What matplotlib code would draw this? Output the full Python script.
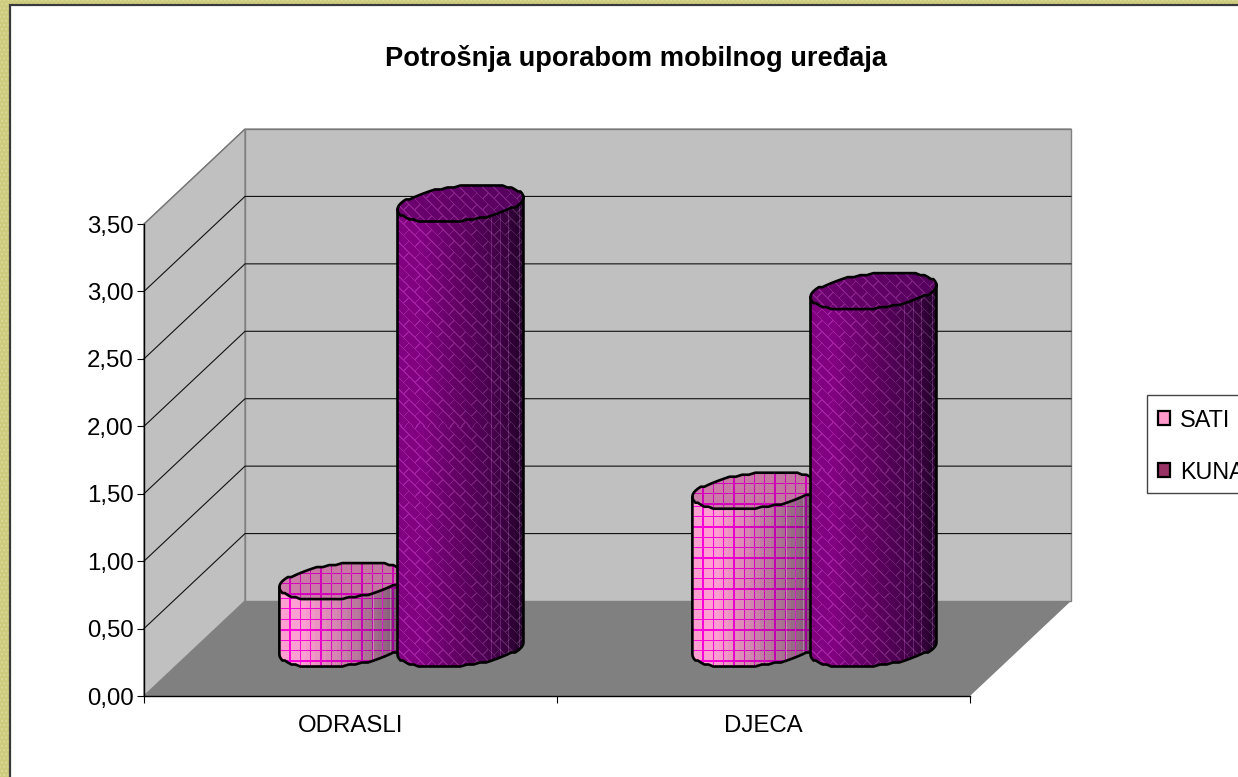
import numpy as np
import matplotlib
matplotlib.use('Agg')
import matplotlib.pyplot as plt
from matplotlib.patches import Patch, Rectangle
from matplotlib.path import Path
from matplotlib.legend_handler import HandlerTuple

plt.rcParams['font.family'] = ['Liberation Sans', 'DejaVu Sans']

title = 'Potrošnja uporabom mobilnog uređaja'
categories = ['ODRASLI', 'DJECA']
series_names = ['SATI', 'KUNA']
sati = [0.50, 1.17]
kuna = [3.30, 2.65]
y_ticks = [0.0, 0.5, 1.0, 1.5, 2.0, 2.5, 3.0, 3.5]

W, H = 1238, 777
fig = plt.figure(figsize=(W / 100, H / 100), dpi=100, facecolor='#cdcb7c')

# textured frame and the white slide behind the chart
fig.patches.append(Rectangle((0, 0), 1, 1, transform=fig.transFigure, facecolor='#cdcb7c',
                             edgecolor='#dcd99a', hatch='....', linewidth=0, zorder=-3))
fig.patches.append(Rectangle((9.5 / W, -0.01), 1.1, 1 - 4.5 / H + 0.01, transform=fig.transFigure,
                             facecolor='white', edgecolor='#3a3a3a', linewidth=1.6, zorder=-2))
# legend box runs off the right edge
fig.patches.append(Rectangle((1146.5 / W, 1 - 492.5 / H), 100 / W, 98 / H, transform=fig.transFigure,
                             facecolor='white', edgecolor='#444444', linewidth=1.0, zorder=-1))

ax = fig.add_axes([144 / W, 1 - 696 / H, 826 / W, 472 / H])
ax.set_xlim(0, 2)
ax.set_ylim(0, 3.5)
ax.set_autoscale_on(False)
ax.patch.set_visible(False)

PX_X = 826 / 2      # pixels per category
PX_Y = 472 / 3.5    # pixels per value unit
DX = 101 / PX_X     # depth shift of the back wall
DY = 95 / PX_Y

# floor and walls
ax.fill([0, 2, 2 + DX, DX], [0, 0, DY, DY], color='#808080', clip_on=False, zorder=1, lw=0)
ax.fill([DX, 2 + DX, 2 + DX, DX], [DY, DY, 3.5 + DY, 3.5 + DY], facecolor='#c0c0c0',
        edgecolor='#808080', lw=1, clip_on=False, zorder=1)
ax.fill([0, DX, DX, 0], [0, DY, 3.5 + DY, 3.5], facecolor='#c0c0c0',
        edgecolor='#808080', lw=1, clip_on=False, zorder=1)
for t in y_ticks[1:-1]:
    ax.plot([0, DX, 2 + DX], [t, t + DY, t + DY], color='#111111', lw=0.8, clip_on=False, zorder=2)
ax.plot([0, DX, 2 + DX], [3.5, 3.5 + DY, 3.5 + DY], color='#777777', lw=0.8, clip_on=False, zorder=2)


def texture(nx, ny, kind, shade_left, shade_right, flat=False):
    # per pixel colours of a cylinder face, shaded in facets with the fill pattern on top
    x = np.arange(nx) + 0.5
    y = np.arange(ny)[::-1] + 0.5
    xx, yy = np.meshgrid(x, y)
    sin_t = np.clip((xx - nx / 2) / (nx / 2), -1, 1)
    theta = np.degrees(np.arcsin(sin_t))
    band = np.floor(theta / 5) * 5
    f = np.clip((band + 40) / 105, 0, 1)
    if flat:
        f = np.clip(xx / nx, 0, 1)
    img = np.empty((ny, nx, 3))
    for c in range(3):
        img[..., c] = shade_left[c] + (shade_right[c] - shade_left[c]) * f
    if kind == 'SATI':
        mask = (xx % 10.3 < 1.3) | (yy % 10.3 < 1.3)
        line = np.stack([img[..., 0] * 0.75 + 60, img[..., 1] * 0.0, img[..., 2] * 0.75 + 60], axis=-1)
        img[mask] = np.clip(line[mask], 0, 255)
    else:
        s = 8.0
        u = (xx + yy) / np.sqrt(2)
        v = (xx - yy) / np.sqrt(2) + 1000
        row = np.floor(u / s)
        mask = (u % s < 1.1) | ((v + (row % 2) * s) % (2 * s) < 1.1)
        img[mask] = np.clip(img[mask] * 1.05 + np.array([30, 30, 28]), 0, 255)
    if not flat:
        # thin lighter seams between the facets on the shaded side
        seam = (theta % 10 < 0.9) & (theta >= 18)
        img[seam] = np.clip(img[seam] + np.array([45, 30, 45]), 0, 255)
    return img.astype(np.uint8)


def ring(t):
    # tilted ellipse, its outline is slightly stepped like the reference
    rx, ry, tilt = 0.1525, 17.3 / PX_Y, 6.5 / PX_Y
    y = ry * np.sin(t) + tilt * np.cos(t)
    return rx * np.cos(t), np.round(y * PX_Y / 2.0) * 2.0 / PX_Y


def cylinder(cx, value, kind, z):
    rx = 0.1525
    tilt = 6.5 / PX_Y
    x0, y0 = cx + 0.5 * DX, 0.5 * DY
    ex, ey = ring(np.linspace(0, 2 * np.pi, 61))
    low_x, low_y = ring(np.linspace(np.pi, 2 * np.pi, 31))
    body_x = np.r_[x0 - rx, x0 + low_x, x0 + rx, x0 - rx]
    body_y = np.r_[y0 + value - tilt, y0 + low_y, y0 + value + tilt, y0 + value - tilt]
    if kind == 'SATI':
        left, right, top_a, top_b = (255, 158, 208), (112, 84, 104), (206, 125, 170), (190, 118, 158)
    else:
        left, right, top_a, top_b = (128, 0, 128), (38, 0, 46), (110, 0, 112), (84, 0, 92)
    pad = 24 / PX_Y
    nx = int(round(2 * rx * PX_X))
    ny = int(round((value + 2 * pad) * PX_Y))
    body = texture(nx, ny, kind, left, right)
    ext = [x0 - rx, x0 + rx, y0 - pad, y0 + value + pad]
    im = ax.imshow(body, extent=ext, aspect='auto', interpolation='nearest', zorder=z)
    im.set_clip_path(Path(np.c_[body_x, body_y]), ax.transData)
    im.set_clip_box(fig.bbox)
    # top face
    top = texture(nx, int(round(2 * pad * PX_Y)), kind, top_a, top_b, flat=True)
    ext = [x0 - rx, x0 + rx, y0 + value - pad, y0 + value + pad]
    im = ax.imshow(top, extent=ext, aspect='auto', interpolation='nearest', zorder=z + 0.1)
    im.set_clip_path(Path(np.c_[x0 + ex, y0 + value + ey]), ax.transData)
    im.set_clip_box(fig.bbox)
    ax.plot(body_x[:-1], body_y[:-1], color='black', lw=1.9, clip_on=False, zorder=z + 0.2)
    ax.plot(x0 + ex, y0 + value + ey, color='black', lw=1.9, clip_on=False, zorder=z + 0.2)


z = 3
for i in range(len(categories)):
    cylinder(i + 0.358, sati[i], 'SATI', z)
    cylinder(i + 0.644, kuna[i], 'KUNA', z + 1)
    z += 2

# axes
for s in ['top', 'right']:
    ax.spines[s].set_visible(False)
for s in ['left', 'bottom']:
    ax.spines[s].set_linewidth(1.0)
    ax.spines[s].set_zorder(20)
ax.set_yticks(y_ticks)
ax.set_yticklabels([('%.2f' % t).replace('.', ',') for t in y_ticks])
ax.set_xticks([0, 1, 2])
ax.set_xticklabels([])
ax.set_xticks([0.5, 1.5], minor=True)
ax.set_xticklabels(categories, minor=True)
ax.tick_params(axis='y', length=5, width=0.8, labelsize=17.3, pad=2.5)
ax.tick_params(axis='x', which='major', length=5, width=0.8)
ax.tick_params(axis='x', which='minor', length=0, labelsize=17.3, pad=14)

fig.text(636 / W, 1 - 59 / H, title, ha='center', va='center', fontsize=19.6, fontweight='bold')

handles = [(Patch(facecolor='#ff99cc', edgecolor='#ff00ff', hatch='+', lw=0),
            Patch(fill=False, edgecolor='black', lw=1.6)),
           Patch(facecolor='#993366', edgecolor='black', lw=1.6)]
leg = fig.legend(handles, series_names, loc='upper left', bbox_to_anchor=(1147 / W, 1 - 398 / H),
                 bbox_transform=fig.transFigure, borderaxespad=0, frameon=False,
                 fontsize=16.8, handlelength=0.55, handleheight=0.55,
                 handletextpad=0.4, labelspacing=1.25, borderpad=0.45,
                 handler_map={tuple: HandlerTuple(ndivide=1, pad=0)})

fig.savefig('out.png', dpi=100)
